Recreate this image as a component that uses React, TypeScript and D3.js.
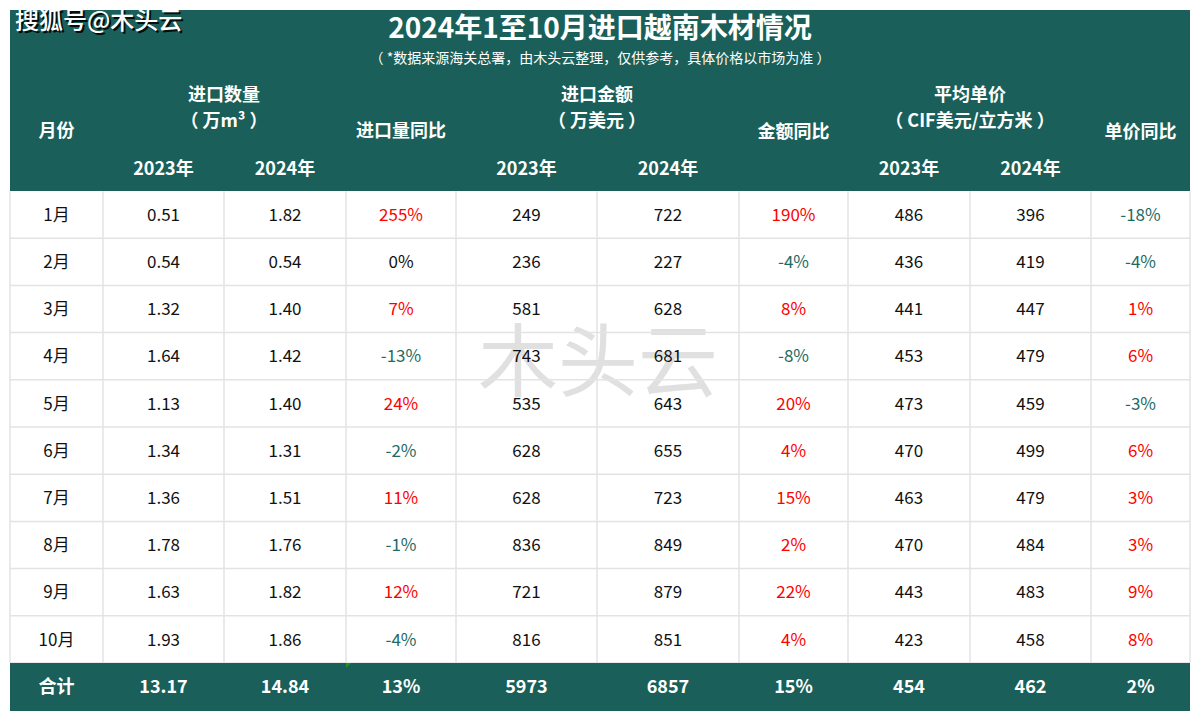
import React from "react";
import * as d3 from "d3";

const months = ["1月", "2月", "3月", "4月", "5月", "6月", "7月", "8月", "9月", "10月"];
const vol2023 = [0.51, 0.54, 1.32, 1.64, 1.13, 1.34, 1.36, 1.78, 1.63, 1.93];
const vol2024 = [1.82, 0.54, 1.40, 1.42, 1.40, 1.31, 1.51, 1.76, 1.82, 1.86];
const volYoY = [255, 0, 7, -13, 24, -2, 11, -1, 12, -4];
const amt2023 = [249, 236, 581, 743, 535, 628, 628, 836, 721, 816];
const amt2024 = [722, 227, 628, 681, 643, 655, 723, 849, 879, 851];
const amtYoY = [190, -4, 8, -8, 20, 4, 15, 2, 22, 4];
const price2023 = [486, 436, 441, 453, 473, 470, 463, 470, 443, 423];
const price2024 = [396, 419, 447, 479, 459, 499, 479, 484, 483, 458];
const priceYoY = [-18, -4, 1, 6, -3, 6, 3, 3, 9, 8];
const totalLabel = "合计";
const totals = ["13.17", "14.84", "13%", "5973", "6857", "15%", "454", "462", "2%"];

const title = "2024年1至10月进口越南木材情况";
const subtitle = "（ *数据来源海关总署，由木头云整理，仅供参考，具体价格以市场为准 ）";
const brand = "搜狐号@木头云";
const watermark = "木头云";

const columnKeys = ["m", "v23", "v24", "vy", "a23", "a24", "ay", "p23", "p24", "py"];
const columnEdges = [10, 103, 224, 346, 456, 597, 739, 848, 970, 1091, 1190];

const GREEN = "#1a5f59";
const RED = "#ff0000";
const NEG = "#1f6b63";
const FONT = "'Noto Sans CJK SC', 'Noto Sans', sans-serif";

export default function App() {
  const W = 1200;
  const H = 720;
  const headerTop = 10;
  const headerBottom = 191;
  const rowsBottom = 663;
  const totalBottom = 711;

  const y = d3.scaleBand<string>().domain(months).range([headerBottom, rowsBottom]);
  const colX = (i: number) => columnEdges[i];
  const colC = (i: number) => (columnEdges[i] + columnEdges[i + 1]) / 2;

  const pctColor = (v: number) => (v > 0 ? RED : v < 0 ? NEG : "#111");
  const fmt2 = d3.format(".2f");

  const rows = months.map((m, i) => [
    { t: m, c: "#111" },
    { t: fmt2(vol2023[i]), c: "#111" },
    { t: fmt2(vol2024[i]), c: "#111" },
    { t: `${volYoY[i]}%`, c: pctColor(volYoY[i]) },
    { t: String(amt2023[i]), c: "#111" },
    { t: String(amt2024[i]), c: "#111" },
    { t: `${amtYoY[i]}%`, c: pctColor(amtYoY[i]) },
    { t: String(price2023[i]), c: "#111" },
    { t: String(price2024[i]), c: "#111" },
    { t: `${priceYoY[i]}%`, c: pctColor(priceYoY[i]) },
  ]);

  const hdr = { fill: "#fff", fontWeight: 700, fontSize: 18, textAnchor: "middle" as const, fontFamily: FONT };

  return (
    <svg width={W} height={H} style={{ position: "absolute", left: 0, top: 0, background: "#fff" }}>
      <rect x={0} y={0} width={W} height={H} fill="#fff" />
      {/* header */}
      <rect x={colX(0)} y={headerTop} width={colX(10) - colX(0)} height={headerBottom - headerTop} fill={GREEN} />
      <text x={600} y={38} fill="#fff" fontSize={28} fontWeight={700} textAnchor="middle" fontFamily={FONT}>{title}</text>
      <text x={600} y={63} fill="#fff" fontSize={14} textAnchor="middle" fontFamily={FONT} style={{ whiteSpace: "pre" }}>{subtitle}</text>
      <text x={17} y={31} fill="#000" fontSize={24} fontWeight={500} fontFamily={FONT} opacity={0.85}>{brand}</text>
      <text x={15} y={29} fill="#fff" fontSize={24} fontWeight={500} fontFamily={FONT}>{brand}</text>

      <text {...hdr} x={colC(0)} y={137}>月份</text>
      <text {...hdr} x={colX(2)} y={101}>进口数量</text>
      <text {...hdr} x={colX(2)} y={127} style={{ whiteSpace: "pre" }}>（ 万m³ ）</text>
      <text {...hdr} x={colC(3)} y={137}>进口量同比</text>
      <text {...hdr} x={colX(5)} y={101}>进口金额</text>
      <text {...hdr} x={colX(5)} y={127} style={{ whiteSpace: "pre" }}>（ 万美元 ）</text>
      <text {...hdr} x={colC(6)} y={138}>金额同比</text>
      <text {...hdr} x={colX(8)} y={101}>平均单价</text>
      <text {...hdr} x={colX(8)} y={127} style={{ whiteSpace: "pre" }}>（ CIF美元/立方米 ）</text>
      <text {...hdr} x={colC(9)} y={138}>单价同比</text>
      {[1, 2, 4, 5, 7, 8].map((ci) => (
        <text key={ci} {...hdr} x={colC(ci)} y={175}>{ci % 3 === 1 ? "2023年" : "2024年"}</text>
      ))}

      {/* watermark */}
      <text x={598} y={390} fill="#d9d9d9" fontSize={80} textAnchor="middle" fontFamily={FONT} opacity={0.8}>{watermark}</text>

      {/* grid */}
      <g stroke="#e3e3e3" strokeWidth={1.5}>
        {months.map((m) => (
          <line key={m} x1={colX(0)} x2={colX(10)} y1={(y(m) as number) + y.bandwidth()} y2={(y(m) as number) + y.bandwidth()} />
        ))}
        {columnEdges.map((e, i) => (
          <line key={i} x1={e} x2={e} y1={headerBottom} y2={rowsBottom} />
        ))}
      </g>

      {/* data rows */}
      {rows.map((cells, ri) => (
        <g key={months[ri]}>
          {cells.map((cell, ci) => (
            <text
              key={columnKeys[ci]}
              x={colC(ci)}
              y={(y(months[ri]) as number) + y.bandwidth() / 2}
              dy="0.36em"
              fill={cell.c}
              fontSize={17}
              textAnchor="middle"
              fontFamily={FONT}
            >
              {cell.t}
            </text>
          ))}
        </g>
      ))}

      {/* total row */}
      <rect x={colX(0)} y={rowsBottom} width={colX(10) - colX(0)} height={totalBottom - rowsBottom} fill={GREEN} />
      <path d={`M${colX(3)},${rowsBottom} l5,0 l-5,5 z`} fill="#1a9a1a" />
      {[totalLabel, ...totals].map((t, ci) => (
        <text key={ci} {...hdr} x={colC(ci)} y={(rowsBottom + totalBottom) / 2} dy="0.36em" fontSize={18}>
          {t}
        </text>
      ))}
    </svg>
  );
}
